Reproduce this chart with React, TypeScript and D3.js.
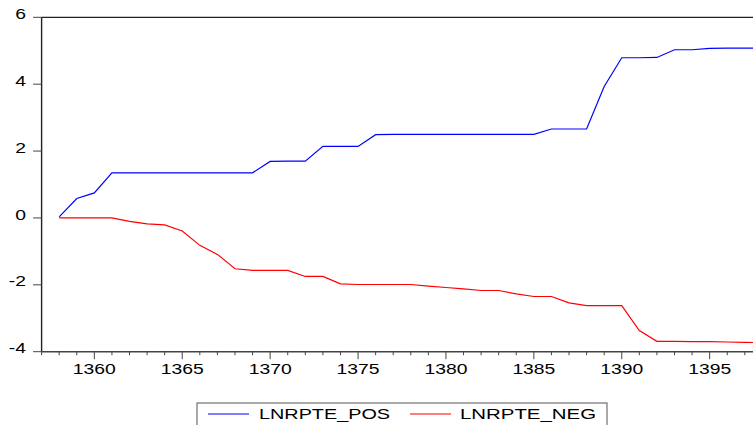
import React from "react";
import * as d3 from "d3";

const years: number[] = [
  1358, 1359, 1360, 1361, 1362, 1363, 1364, 1365, 1366, 1367,
  1368, 1369, 1370, 1371, 1372, 1373, 1374, 1375, 1376, 1377,
  1378, 1379, 1380, 1381, 1382, 1383, 1384, 1385, 1386, 1387,
  1388, 1389, 1390, 1391, 1392, 1393, 1394, 1395, 1396, 1397, 1398,
];

const lnrptePos: number[] = [
  0.03, 0.58, 0.75, 1.35, 1.35, 1.35, 1.35, 1.35, 1.35, 1.35,
  1.35, 1.35, 1.69, 1.70, 1.70, 2.14, 2.14, 2.14, 2.49, 2.50,
  2.50, 2.50, 2.50, 2.50, 2.50, 2.50, 2.50, 2.50, 2.66, 2.66,
  2.66, 3.93, 4.79, 4.79, 4.80, 5.03, 5.03, 5.07, 5.08, 5.08, 5.08,
];

const lnrpteNeg: number[] = [
  0, 0, 0, 0, -0.10, -0.18, -0.21, -0.39, -0.82, -1.09,
  -1.52, -1.57, -1.57, -1.57, -1.75, -1.75, -1.97, -1.99, -1.99, -1.99,
  -1.99, -2.04, -2.08, -2.12, -2.17, -2.17, -2.27, -2.35, -2.35, -2.54,
  -2.62, -2.62, -2.62, -3.37, -3.69, -3.69, -3.70, -3.70, -3.71, -3.72, -3.73,
];

const yTicks: number[] = [-4, -2, 0, 2, 4, 6];
const xLabelTicks: number[] = [1360, 1365, 1370, 1375, 1380, 1385, 1390, 1395];
const seriesNames: string[] = ["LNRPTE_POS", "LNRPTE_NEG"];
const seriesColors: string[] = ["#0000ff", "#ff0000"];

const W = 753;
const H = 425;
const left = 41.6;
const top = 17.3;
const bottom = 351.7;

export default function App() {
  const x = d3.scaleLinear().domain([1357, 1398]).range([left, 762.4]);
  const y = d3.scaleLinear().domain([-4, 6]).range([bottom, top]);

  const line = d3
    .line<[number, number]>()
    .x((d) => x(d[0]))
    .y((d) => y(d[1]));

  const posPath = line(years.map((yr, i) => [yr, lnrptePos[i]] as [number, number])) || "";
  const negPath = line(years.map((yr, i) => [yr, lnrpteNeg[i]] as [number, number])) || "";

  const minorTicks = d3.range(1357, 1399);
  const font = "'Liberation Sans', Arial, sans-serif";
  const sx = 1.38;

  return (
    <svg
      width={W}
      height={H}
      style={{ position: "absolute", left: 0, top: 0, background: "#fff" }}
      fontFamily={font}
    >
      <rect x={0} y={0} width={W} height={H} fill="#fff" />
      <defs>
        <clipPath id="plotclip">
          <rect x={left} y={top - 2} width={W - left} height={bottom - top + 4} />
        </clipPath>
      </defs>

      {/* frame */}
      <line x1={left} x2={W} y1={top} y2={top} stroke="#222" strokeWidth={1.2} />
      <line x1={left} x2={left} y1={top} y2={bottom} stroke="#222" strokeWidth={1.4} />
      <line x1={left} x2={W} y1={bottom} y2={bottom} stroke="#444" strokeWidth={1.6} />

      {/* y ticks */}
      {yTicks.map((t) => (
        <g key={"y" + t}>
          <line x1={left - 8.5} x2={left} y1={y(t)} y2={y(t)} stroke="#444" strokeWidth={1} />
          <text
            transform={`translate(26, ${y(t) + 1.6}) scale(${sx},1)`}
            textAnchor="end"
            fontSize={14}
            fill="#000"
          >
            {t}
          </text>
        </g>
      ))}

      {/* x ticks */}
      {minorTicks.map((t) => {
        const major = t % 5 === 0;
        return (
          <line
            key={"xt" + t}
            x1={x(t)}
            x2={x(t)}
            y1={bottom}
            y2={bottom + (major ? 7.5 : 3.5)}
            stroke="#444"
            strokeWidth={1}
          />
        );
      })}
      {xLabelTicks.map((t) => (
        <text
          key={"xl" + t}
          transform={`translate(${x(t)}, 373.6) scale(${sx},1)`}
          textAnchor="middle"
          fontSize={14}
          fill="#000"
        >
          {t}
        </text>
      ))}

      {/* series */}
      <g clipPath="url(#plotclip)">
        <path d={posPath} fill="none" stroke={seriesColors[0]} strokeWidth={1.2} />
        <path d={negPath} fill="none" stroke={seriesColors[1]} strokeWidth={1.2} />
      </g>

      {/* legend */}
      <rect x={197} y={403} width={410} height={30} fill="#fff" stroke="#555" strokeWidth={1} />
      <line x1={208} x2={249} y1={414} y2={414} stroke={seriesColors[0]} strokeWidth={1.2} />
      <text x={259} y={419} fontSize={15} textLength={131} lengthAdjust="spacingAndGlyphs" fill="#000">
        {seriesNames[0]}
      </text>
      <line x1={410} x2={451} y1={414} y2={414} stroke={seriesColors[1]} strokeWidth={1.2} />
      <text x={460} y={419} fontSize={15} textLength={136} lengthAdjust="spacingAndGlyphs" fill="#000">
        {seriesNames[1]}
      </text>
    </svg>
  );
}
